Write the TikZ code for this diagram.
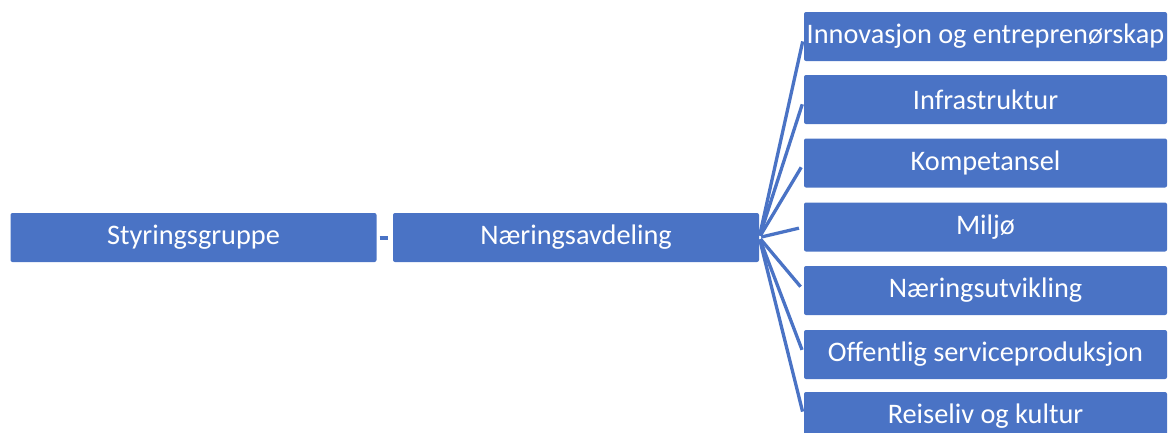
\documentclass[tikz,border=0pt]{standalone}
\usepackage{fontspec}
\setmainfont{Carlito}
\definecolor{boxblue}{HTML}{4A73C5}
\begin{document}
\begin{tikzpicture}[x=1pt,y=-1pt,
  box/.style={draw=none, fill=boxblue, rounded corners=2pt, minimum height=49pt,
    text=white, font=\fontsize{28.3}{30}\selectfont, inner sep=0pt, anchor=center},
  wide/.style={box, minimum width=366pt},
  sub/.style={box, minimum width=363pt},
  link/.style={draw=boxblue, line width=3.3pt}]
\useasboundingbox[clip] (0,0) rectangle (1169,432);
\node[wide] (sty) at (193.5,237.5) {Styringsgruppe};
\node[wide] (nae) at (576,237.5) {Næringsavdeling};
\node[sub] (b1) at (985.5,36.5) {Innovasjon og entreprenørskap};
\node[sub] (b2) at (985.5,99.5) {Infrastruktur};
\node[sub] (b3) at (985.5,163) {Kompetansel};
\node[sub] (b4) at (985.5,227) {Miljø};
\node[sub] (b5) at (985.5,290.5) {Næringsutvikling};
\node[sub] (b6) at (985.5,354.5) {Offentlig serviceproduksjon};
\node[sub] (b7) at (985.5,416.5) {Reiseliv og kultur};
\draw[link, line width=4pt, shorten <=3pt, shorten >=5pt] (sty.east) -- (nae.west);
\foreach \b in {b1,b2,b3,b4,b5,b6,b7}
  \draw[link, shorten <=2pt, shorten >=5pt] (nae.east) -- (\b.west);
\end{tikzpicture}
\end{document}
